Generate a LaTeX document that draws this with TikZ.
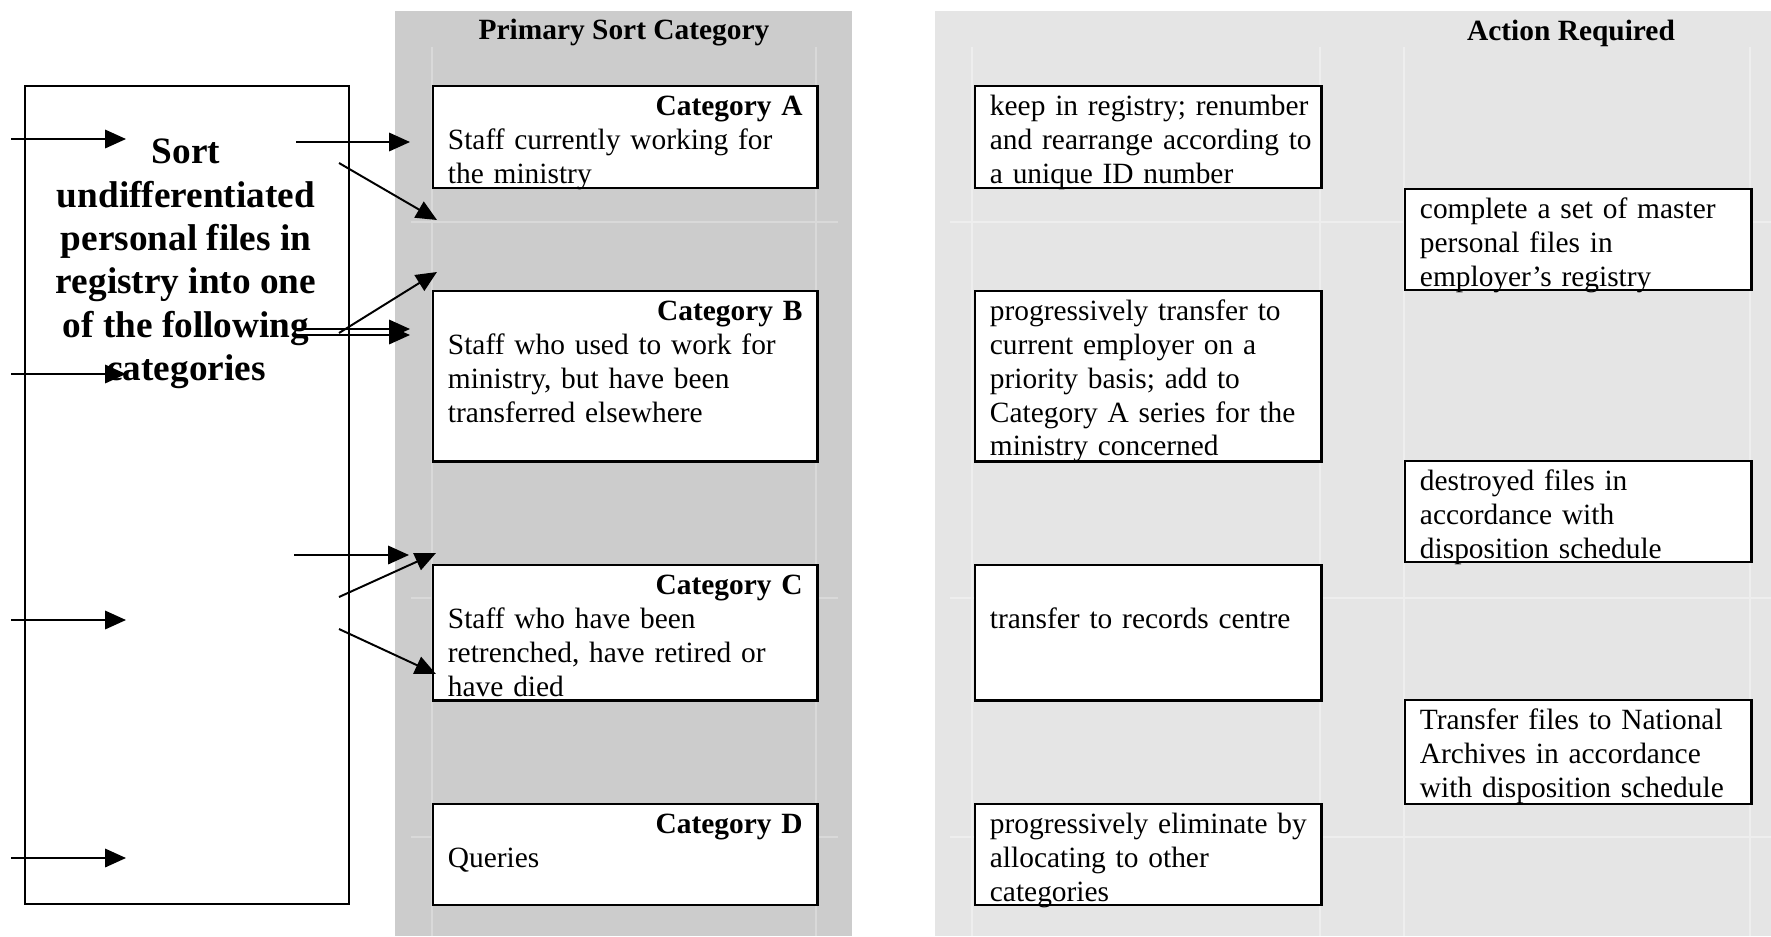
\documentclass[tikz,border=0pt]{standalone}
\usepackage{fontspec}
\setmainfont{Liberation Serif}
\usetikzlibrary{positioning, arrows.meta}

\definecolor{sortgrey}{gray}{0.80}
\definecolor{sortline}{gray}{0.85}
\definecolor{actgrey}{gray}{0.90}
\definecolor{actline}{gray}{0.935}

\begin{document}
\begin{tikzpicture}[
    x=0.408pt, y=-0.408pt,
    font=\fontsize{12}{13.8}\selectfont,
    box/.style={rectangle, draw, line width=1pt, fill=white, anchor=north west, align=left,
        inner xsep=6pt, inner ysep=2pt, text height=10pt,
        execute at begin node={\rightskip=0pt plus 1fil minus 15pt\hyphenpenalty=10000}},
    catbox/.style={box, text width=144.7pt},
    actbox/.style={box, text width=129.2pt},
    head/.style={font=\fontsize{12}{13.8}\selectfont\bfseries},
    arrow/.style={-{Triangle[length=8.5pt,width=7.5pt]}, line width=0.8pt}
]
\useasboundingbox (0,0) rectangle (1771,936);

% Column backgrounds and headings
\fill[sortgrey] (395,11) rectangle (852,936);
\fill[actgrey] (935,11) rectangle (1771,936);
\foreach \y in {222,598,837} {
    \draw[sortline, line width=0.5pt] (411,\y) -- (838,\y);
    \draw[actline, line width=0.5pt] (950,\y) -- (1771,\y);
}
\foreach \x in {432,816}
    \draw[sortline, line width=0.5pt] (\x,47) -- (\x,936);
\foreach \x in {972,1320,1404,1750}
    \draw[actline, line width=0.5pt] (\x,47) -- (\x,936);
\node[head] (hsort) at (624,33) {Primary Sort Category};
\node[head] (hact) at (1571,33) {Action Required};

% Sorting box
\node[draw, line width=1pt, anchor=north west, minimum width=132.2pt, minimum height=333.7pt] (sort) at (24,85) {};
\node[font=\fontsize{15.2}{17.7}\selectfont\bfseries, align=center] (sorttxt) at (186,264)
    {Sort\\undifferentiated\\personal files in\\registry into one\\of the following\\categories};

% Primary sort categories
\node[catbox, text depth=27.6pt] (catA) at (432,85) {\hfill\textbf{Category A}\\Staff currently working for\\the ministry};
\node[catbox, text depth=55.4pt] (catB) at (432,290) {\hfill\textbf{Category B}\\Staff who used to work for\\ministry, but have been\\transferred elsewhere};
\node[catbox, text depth=41.1pt] (catC) at (432,564) {\hfill\textbf{Category C}\\Staff who have been\\retrenched, have retired or\\have died};
\node[catbox, text depth=27.2pt] (catD) at (432,803) {\hfill\textbf{Category D}\\Queries};

% Actions
\node[actbox, text depth=27.6pt] (actA) at (974,85) {keep in registry; renumber\\and rearrange according to\\a unique ID number};
\node[actbox, text depth=55.4pt] (actB) at (974,290) {progressively transfer to\\current employer on a\\priority basis; add to\\Category A series for the\\ministry concerned};
\node[actbox, text depth=41.1pt] (actC) at (974,564) {\\transfer to records centre};
\node[actbox, text depth=27.2pt] (actD) at (974,803) {progressively eliminate by\\allocating to other\\categories};

\node[actbox, text depth=27.2pt] (master) at (1404,188) {complete a set of master\\personal files in\\employer's registry};
\node[actbox, text depth=27.2pt] (destroy) at (1404,460) {destroyed files in\\accordance with\\disposition schedule};
\node[actbox, text depth=28.4pt] (natarch) at (1404,699) {Transfer files to National\\Archives in accordance\\with disposition schedule};

% Arrows into the sorting box
\foreach \i/\y in {1/139, 2/374, 3/620, 4/858} {
    \coordinate (in\i) at (11,\y);
    \coordinate (in\i e) at (126,\y);
    \draw[arrow] (in\i) -- (in\i e);
}

% Arrows out of the sorting box
\coordinate (o1) at (296,142);  \coordinate (o1e) at (410,142);
\coordinate (o2) at (339,163);  \coordinate (o2e) at (437,220);
\coordinate (o3) at (339,333);  \coordinate (o3e) at (437,272);
\coordinate (o4) at (296,329);  \coordinate (o4e) at (410,329);
\coordinate (o5) at (296,335);  \coordinate (o5e) at (410,335);
\coordinate (o6) at (294,555);  \coordinate (o6e) at (409,555);
\coordinate (o7) at (339,597);  \coordinate (o7e) at (436,553);
\coordinate (o8) at (339,629);  \coordinate (o8e) at (436,674);
\foreach \i in {1,...,8}
    \draw[arrow] (o\i) -- (o\i e);

\end{tikzpicture}
\end{document}
